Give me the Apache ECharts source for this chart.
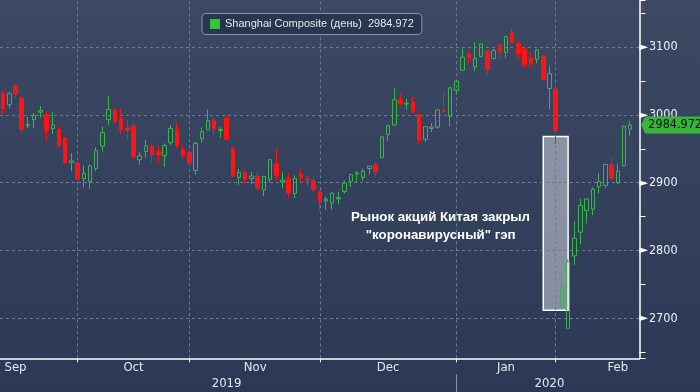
<!DOCTYPE html>
<html><head><meta charset="utf-8">
<script src="https://cdn.jsdelivr.net/npm/echarts@6.0.0/dist/echarts.min.js"></script>
<style>
html,body{margin:0;padding:0;width:700px;height:392px;overflow:hidden;background:linear-gradient(#3d4963,#2b3956);}
#c{width:700px;height:392px;}
</style></head><body><div id="c"></div>
<script>
const seriesName = 'Shanghai Composite (день)';
const categories = [
'2019-09-11','2019-09-12','2019-09-16','2019-09-17','2019-09-18','2019-09-19','2019-09-20','2019-09-23','2019-09-24','2019-09-25','2019-09-26','2019-09-27','2019-09-30',
'2019-10-08','2019-10-09','2019-10-10','2019-10-11','2019-10-14','2019-10-15','2019-10-16','2019-10-17','2019-10-18','2019-10-21','2019-10-22','2019-10-23','2019-10-24','2019-10-25','2019-10-28','2019-10-29','2019-10-30','2019-10-31',
'2019-11-01','2019-11-04','2019-11-05','2019-11-06','2019-11-07','2019-11-08','2019-11-11','2019-11-12','2019-11-13','2019-11-14','2019-11-15','2019-11-18','2019-11-19','2019-11-20','2019-11-21','2019-11-22','2019-11-25','2019-11-26','2019-11-27','2019-11-28','2019-11-29',
'2019-12-02','2019-12-03','2019-12-04','2019-12-05','2019-12-06','2019-12-09','2019-12-10','2019-12-11','2019-12-12','2019-12-13','2019-12-16','2019-12-17','2019-12-18','2019-12-19','2019-12-20','2019-12-23','2019-12-24','2019-12-25','2019-12-26','2019-12-27','2019-12-30','2019-12-31',
'2020-01-02','2020-01-03','2020-01-06','2020-01-07','2020-01-08','2020-01-09','2020-01-10','2020-01-13','2020-01-14','2020-01-15','2020-01-16','2020-01-17','2020-01-20','2020-01-21','2020-01-22','2020-01-23',
'2020-02-03','2020-02-04','2020-02-05','2020-02-06','2020-02-07','2020-02-10','2020-02-11','2020-02-12','2020-02-13','2020-02-14','2020-02-17','2020-02-18'
];
const openV = [
3031,3015,3043,3025,2984,2993,3004,3000,2980,2978,2966,2930,2929,
2906,2902,2921,2954,2993,3007,2994,2981,2984,2934,2946,2954,2946,2940,2959,2979,2949,2945,
2918,2965,2978,2992,2977,2995,2951,2908,2914,2906,2910,2889,2905,2928,2901,2906,2884,2913,2906,2903,2887,
2873,2870,2876,2887,2902,2913,2908,2921,2927,2937,2971,2985,3022,3016,3019,3000,2964,2980,2982,3006,2998,3036,
3066,3089,3071,3086,3094,3083,3103,3092,3121,3105,3097,3083,3082,3087,3039,3038,
2716.7,2685.3,2792,2827,2859,2861,2894,2896,2927,2900,2925,2979
];
const closeV = [
3008.8,3031.2,3030.8,2978.1,2985.7,2999.3,3006.5,2977.1,2985.3,2955.4,2929.1,2932.2,2905.2,
2913.6,2924.9,2947.7,2973.7,3007.9,2991.1,2978.7,2977.3,2938.1,2939.6,2954.4,2941.6,2940.9,2954.9,2980.1,2954.2,2939.3,2929.1,
2958.2,2975.5,2991.6,2978.6,2978.7,2964.2,2910.0,2914.8,2905.2,2909.9,2891.3,2909.2,2934.0,2911.1,2903.6,2885.3,2906.2,2907.1,2903.2,2889.7,2872.0,
2875.8,2884.7,2878.1,2899.5,2912.0,2914.5,2917.3,2924.4,2915.7,2967.7,2984.4,3022.4,3017.0,3017.1,3004.9,2962.8,2982.7,2981.9,3007.4,3005.0,3040.0,3050.1,
3085.2,3083.8,3083.4,3104.8,3066.9,3094.9,3092.3,3115.6,3106.8,3090.0,3074.1,3075.5,3095.8,3052.1,3060.8,2976.5,
2746.6,2783.3,2818.1,2866.5,2876.0,2890.5,2901.7,2926.9,2906.1,2917.0,2983.6,2985.0
];
const lowV = [
3001,3010,3025,2972,2980,2980,2996,2962,2972,2951,2928,2917,2904,
2893,2891,2917,2946,2985,2987,2972,2965,2936,2926,2937,2929,2928,2923,2956,2951,2935,2925,
2912,2959,2978,2970,2966,2963,2908,2897,2898,2898,2890,2880,2900,2903,2892,2878,2877,2901,2896,2887,2860,
2860,2860,2868,2884,2894,2901,2903,2912,2908,2937,2961,2985,3014,3008,3002,2957,2960,2975,2980,3003,2983,3030,
3066,3074,3065,3085,3060,3083,3084,3084,3105,3082,3069,3071,3076,3052,3008,2957,
2716,2685,2779,2809,2840,2852,2884,2892,2903,2898,2924,2969
];
const highV = [
3035,3034,3045,3028,2997,3003,3013,3005,3005,2983,2967,2944,2931,
2925,2927,2952,2983,3028,3009,3010,2993,2990,2946,2963,2958,2954,2958,2985,2989,2955,2949,
2960,2981,3008,2996,2982,3000,2953,2920,2918,2916,2916,2910,2934,2950,2915,2914,2911,2920,2910,2910,2887,
2880,2886,2886,2903,2913,2917,2921,2925,2931,2968,2985,3039,3031,3024,3027,3003,2984,2988,3008,3036,3041,3051,
3098,3094,3107,3105,3095,3097,3105,3116,3127.5,3109,3100,3091,3097,3088,3073,3046,
2767,2787,2843,2877,2877,2893,2914,2928,2936,2928,2984,2991
];
const yTicks = [2700, 2800, 2900, 3000, 3100];
const monthEnds = ['2019-09-30','2019-10-31','2019-11-29','2019-12-31','2020-01-23'];
const monthLabels = ['Sep','Oct','Nov','Dec','Jan','Feb'];
const yearLabels = ['2019','2020'];
const lastClose = 2984.972;
const gapFrom = '2020-01-21', gapTo = '2020-02-04', gapTop = 2968, gapBottom = 2712;
const noteLines = ['Рынок акций Китая закрыл', '    "коронавирусный" гэп'];

// layout constants
const monthLabelAt = [2, 21, 41, 62, 81, 99];
const yearLabelAt = [36, 88];
const FF = '"DejaVu Sans Condensed",sans-serif';

const cats = categories.concat(['']);
const ohlc = categories.map((d, i) => [openV[i], closeV[i], lowV[i], highV[i]]);
const tickIdx = monthEnds.map(d => categories.indexOf(d));
const sepIdx = categories.indexOf('2019-12-31');

const chart = echarts.init(document.getElementById('c'), null, {renderer: 'canvas'});
chart.setOption({
  animation: false,
  backgroundColor: 'transparent',
  grid: {left: -1, right: 60.5, top: 0, bottom: 33.7},
  legend: {
    left: 202, top: 13.5, selectedMode: false,
    backgroundColor: '#2a3650', borderColor: '#8b93a3', borderWidth: 1, borderRadius: 4,
    padding: [5, 8, 5, 8], itemWidth: 10, itemHeight: 10,
    textStyle: {color: '#e6e8ec', fontSize: 11, fontFamily: '"Liberation Sans",Arial,sans-serif'},
    data: [{name: seriesName, icon: 'rect', itemStyle: {color: '#33c43a', borderWidth: 0}}],
    formatter: n => n + '  ' + lastClose.toFixed(3)
  },
  xAxis: [{
    type: 'category', data: cats, boundaryGap: true,
    axisLine: {show: true, lineStyle: {color: '#ffffff', width: 1.5}},
    axisTick: {show: true, alignWithLabel: true, interval: i => tickIdx.includes(i), length: 4, lineStyle: {color: '#ffffff'}},
    axisLabel: {
      interval: i => monthLabelAt.includes(i), margin: 3,
      color: '#e4e8ee', fontSize: 13, fontFamily: FF,
      formatter: (v, i) => {
        const k = monthLabelAt.indexOf(i);
        if (k < 0) return '';
        return k === 2 ? '{n|' + monthLabels[k] + '}' : monthLabels[k];
      },
      rich: {n: {padding: [0, 5, 0, 0], color: '#e4e8ee', fontSize: 13, fontFamily: FF}}
    },
    splitLine: {show: false}
  }, {
    type: 'category', data: cats, boundaryGap: true, position: 'bottom', offset: 16,
    axisLine: {show: false},
    axisTick: {show: true, alignWithLabel: true, interval: i => i === sepIdx, length: 18, lineStyle: {color: '#8994a8'}},
    axisLabel: {
      interval: i => yearLabelAt.includes(i), margin: 3,
      color: '#e4e8ee', fontSize: 13, fontFamily: FF,
      formatter: (v, i) => { const k = yearLabelAt.indexOf(i); return k < 0 ? '' : yearLabels[k]; }
    },
    splitLine: {show: false}
  }],
  yAxis: {
    type: 'value', position: 'right', min: 2641, max: 3169.5, splitNumber: 10, scale: true,
    axisLine: {show: true, lineStyle: {color: '#ffffff', width: 1.5}},
    axisTick: {show: true, length: 6, lineStyle: {color: '#ffffff'}},
    splitLine: {show: false},
    axisLabel: {
      margin: 0,
      formatter: v => {
        const r = Math.round(v);
        return (Math.abs(v - r) < 1e-6 && yTicks.includes(r)) ? '{t|►}{v|' + r + '}' : '';
      },
      rich: {
        t: {fontSize: 11, color: '#ffffff', fontFamily: '"DejaVu Sans"'},
        v: {fontSize: 12.5, color: '#eef0f4', fontFamily: FF, padding: [0, 0, 0, 1]}
      }
    }
  },
  graphic: [{
    type: 'text', left: 351, top: 209, silent: true,
    style: {text: noteLines.join('\n'), fill: '#ffffff', fontSize: 13.3, fontWeight: 'bold',
      fontFamily: '"Liberation Sans",Arial,sans-serif', lineHeight: 17.5}
  }],
  series: [{
    name: seriesName, type: 'candlestick', data: ohlc, barWidth: 4,
    itemStyle: {color: 'rgba(0,0,0,0)', color0: '#ff1414', borderColor: '#3cb44b', borderColor0: '#ff1414', borderWidth: 1},
    markLine: {
      silent: true, z: 1, symbol: ['none', 'none'], label: {show: false},
      lineStyle: {type: [3, 3], color: '#6c7a93', width: 1},
      data: monthEnds.map(d => ({xAxis: d})).concat(yTicks.map(v => ({yAxis: v})))
    },
    markArea: {
      silent: true, z: 1,
      itemStyle: {color: 'rgba(208,212,222,0.55)', borderColor: '#ffffff', borderWidth: 1.5},
      data: [[{xAxis: gapFrom, yAxis: gapTop}, {xAxis: gapTo, yAxis: gapBottom}]]
    },
    markPoint: {
      silent: true, z: 6,
      symbol: 'path://M0,8.5L4,0L66,0L66,17L4,17Z', symbolSize: [66, 17], symbolKeepAspect: false, symbolOffset: [44, 0],
      itemStyle: {color: '#35b53b'},
      label: {show: true, position: 'inside', offset: [1, 0], formatter: () => lastClose.toFixed(3), color: '#10140f', fontSize: 12.5, fontFamily: FF},
      data: [{coord: [categories[categories.length - 1], lastClose], value: lastClose}]
    }
  }]
});
</script></body></html>
